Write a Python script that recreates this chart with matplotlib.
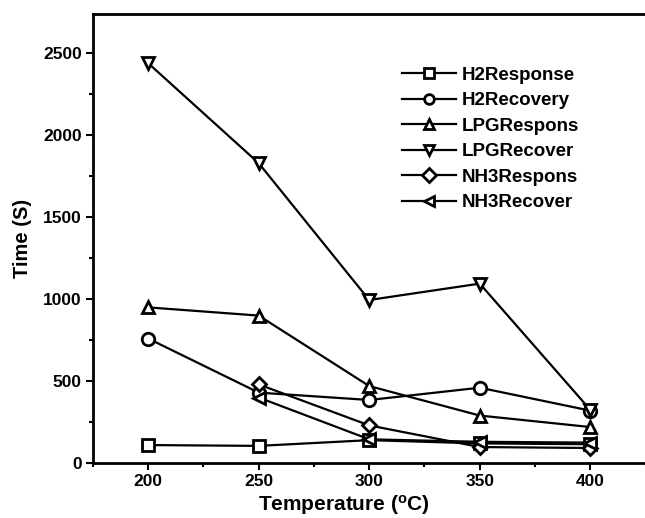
import matplotlib
matplotlib.use("Agg")
import matplotlib.pyplot as plt
from matplotlib.ticker import MultipleLocator

plt.rcParams['font.family'] = ['Liberation Sans', 'DejaVu Sans']
plt.rcParams['font.weight'] = 'bold'

# Sensor response / recovery times versus operating temperature
temperature = [200, 250, 300, 350, 400]
nh3_temperature = [250, 300, 350, 400]

h2_response = [110, 105, 140, 120, 115]
h2_recovery = [760, 430, 385, 460, 320]
lpg_response = [950, 900, 470, 290, 220]
lpg_recovery = [2440, 1830, 995, 1095, 325]
nh3_response = [480, 230, 98, 92]
nh3_recovery = [400, 145, 130, 125]

series = [
    ("H2Response", temperature, h2_response, "s"),
    ("H2Recovery", temperature, h2_recovery, "o"),
    ("LPGRespons", temperature, lpg_response, "^"),
    ("LPGRecover", temperature, lpg_recovery, "v"),
    ("NH3Respons", nh3_temperature, nh3_response, "D"),
    ("NH3Recover", nh3_temperature, nh3_recovery, "<"),
]

fig = plt.figure(figsize=(6.45, 5.18), dpi=100)
ax = fig.add_axes([0.144, 0.106, 0.874, 0.867])

for name, xs, ys, mk in series:
    ms = 7.5 if mk == "D" else 9
    ax.plot(xs, ys, color="black", linewidth=1.6, marker=mk, markersize=ms,
            markerfacecolor="white", markeredgecolor="black",
            markeredgewidth=2.0, label=name)

ax.set_xlim(175, 430)
ax.set_ylim(0, 2740)
ax.xaxis.set_major_locator(MultipleLocator(50))
ax.xaxis.set_minor_locator(MultipleLocator(25))
ax.yaxis.set_major_locator(MultipleLocator(500))
ax.yaxis.set_minor_locator(MultipleLocator(250))

for side in ["left", "bottom", "top"]:
    ax.spines[side].set_linewidth(2.0)
ax.spines["right"].set_visible(False)

ax.tick_params(which="major", direction="out", length=5, width=1.5,
               labelsize=12.5, pad=3)
ax.tick_params(which="minor", direction="out", length=3, width=1.5)
ax.tick_params(top=False, right=False, which="both")
for lbl in ax.get_xticklabels() + ax.get_yticklabels():
    lbl.set_fontweight("bold")

ax.set_xlabel(r"Temperature ($\mathregular{^{o}}$C)", fontsize=15,
              fontweight="bold")
ax.xaxis.set_label_coords(0.445, -0.066)
ax.set_ylabel("Time (S)", fontsize=14.5, fontweight="bold", labelpad=8)

leg = ax.legend(loc="upper left", bbox_to_anchor=(0.535, 0.9), frameon=False,
                prop={"weight": "bold", "size": 13.5}, handlelength=2.9,
                handletextpad=0.3, labelspacing=0.45, borderaxespad=0)
for h in leg.legend_handles:
    h.set_markersize(7)

fig.savefig("out.png", dpi=100)
